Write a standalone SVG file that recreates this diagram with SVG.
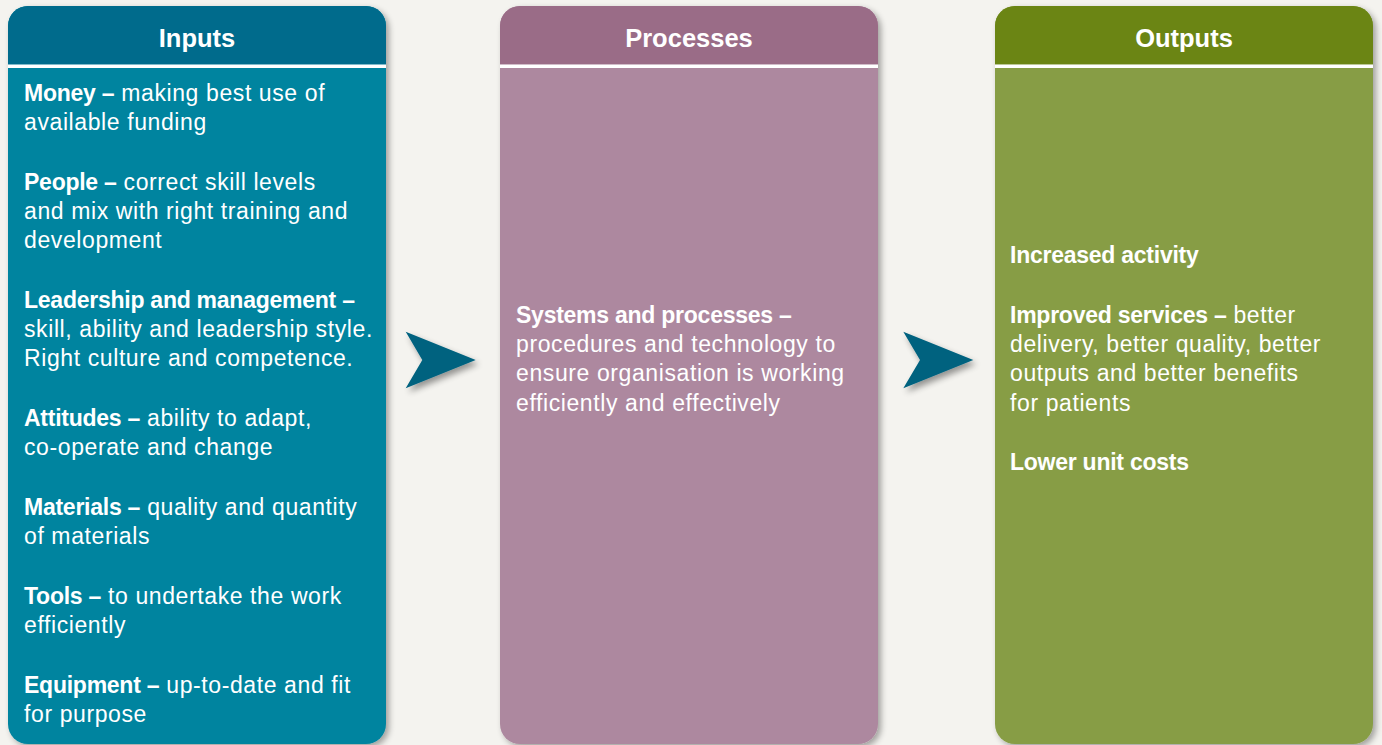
<svg xmlns="http://www.w3.org/2000/svg" width="1382" height="745" viewBox="0 0 1382 745">
<defs>
<filter id="sh" x="-10%" y="-10%" width="130%" height="130%">
<feGaussianBlur in="SourceAlpha" stdDeviation="3"/>
<feOffset dx="3" dy="3" result="b"/>
<feComponentTransfer><feFuncA type="linear" slope="0.35"/></feComponentTransfer>
<feMerge><feMergeNode/><feMergeNode in="SourceGraphic"/></feMerge>
</filter>
<filter id="ash" x="-30%" y="-30%" width="170%" height="170%">
<feGaussianBlur in="SourceAlpha" stdDeviation="3"/>
<feOffset dx="3" dy="4" result="b"/>
<feComponentTransfer><feFuncA type="linear" slope="0.4"/></feComponentTransfer>
<feMerge><feMergeNode/><feMergeNode in="SourceGraphic"/></feMerge>
</filter>
</defs>
<style>
text{font-family:"Liberation Sans",Arial,sans-serif;fill:#ffffff}
.hd{font-size:25.5px;font-weight:bold;text-anchor:middle}
.bd{font-size:23px;letter-spacing:0.6px}
.b{font-weight:bold;letter-spacing:-0.25px}
.sep{fill:#ffffff}
.arrow{fill:#05627f}
</style>
<rect width="1382" height="745" fill="#f4f3ef"/>

<g id="inputs">
<g filter="url(#sh)">
<rect x="8" y="6" width="378" height="738" rx="20" fill="#00849f"/>
</g>
<path d="M8,64.5 V26 A20,20 0 0 1 28,6 H366 A20,20 0 0 1 386,26 V64.5 Z" fill="#006b8c"/>
<rect class="sep" x="8" y="64.5" width="378" height="3.5"/>
<text class="hd" x="197" y="47">Inputs</text>
<text class="bd" x="24" y="101"><tspan class="b">Money –</tspan> making best use of</text>
<text class="bd" x="24" y="130">available funding</text>
<text class="bd" x="24" y="190"><tspan class="b">People –</tspan> correct skill levels</text>
<text class="bd" x="24" y="219">and mix with right training and</text>
<text class="bd" x="24" y="248">development</text>
<text class="bd" x="24" y="308"><tspan class="b">Leadership and management –</tspan></text>
<text class="bd" x="24" y="337">skill, ability and leadership style.</text>
<text class="bd" x="24" y="366">Right culture and competence.</text>
<text class="bd" x="24" y="426"><tspan class="b">Attitudes –</tspan> ability to adapt,</text>
<text class="bd" x="24" y="455">co-operate and change</text>
<text class="bd" x="24" y="515"><tspan class="b">Materials –</tspan> quality and quantity</text>
<text class="bd" x="24" y="544">of materials</text>
<text class="bd" x="24" y="604"><tspan class="b">Tools –</tspan> to undertake the work</text>
<text class="bd" x="24" y="633">efficiently</text>
<text class="bd" x="24" y="693"><tspan class="b">Equipment –</tspan> up-to-date and fit</text>
<text class="bd" x="24" y="722">for purpose</text>
</g>

<g id="processes">
<g filter="url(#sh)">
<rect x="500" y="6" width="378" height="738" rx="20" fill="#ad889f"/>
</g>
<path d="M500,64.5 V26 A20,20 0 0 1 520,6 H858 A20,20 0 0 1 878,26 V64.5 Z" fill="#9a6c87"/>
<rect class="sep" x="500" y="64.5" width="378" height="3.5"/>
<text class="hd" x="689" y="47">Processes</text>
<text class="bd" x="516" y="323"><tspan class="b">Systems and processes –</tspan></text>
<text class="bd" x="516" y="352">procedures and technology to</text>
<text class="bd" x="516" y="381">ensure organisation is working</text>
<text class="bd" x="516" y="411">efficiently and effectively</text>
</g>

<g id="outputs">
<g filter="url(#sh)">
<rect x="995" y="6" width="378" height="738" rx="20" fill="#879d44"/>
</g>
<path d="M995,64.5 V26 A20,20 0 0 1 1015,6 H1353 A20,20 0 0 1 1373,26 V64.5 Z" fill="#6b8514"/>
<rect class="sep" x="995" y="64.5" width="378" height="3.5"/>
<text class="hd" x="1184" y="47">Outputs</text>
<text class="bd b" x="1010" y="263">Increased activity</text>
<text class="bd" x="1010" y="323"><tspan class="b">Improved services –</tspan> better</text>
<text class="bd" x="1010" y="352">delivery, better quality, better</text>
<text class="bd" x="1010" y="381">outputs and better benefits</text>
<text class="bd" x="1010" y="411">for patients</text>
<text class="bd b" x="1010" y="470">Lower unit costs</text>
</g>

<g id="connectors">
<polygon class="arrow" filter="url(#ash)" points="405.7,331.7 475.7,360 405.7,388.3 422.3,360"/>
<polygon class="arrow" filter="url(#ash)" points="903.3,331.7 973.3,360 903.3,388.3 920,360"/>
</g>
</svg>
